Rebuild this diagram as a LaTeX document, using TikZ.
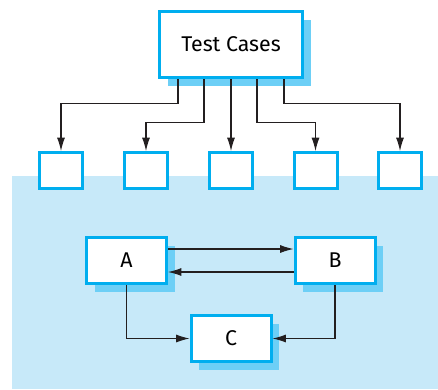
\documentclass[tikz,border=0pt]{standalone}
\usepackage{fontspec}
\setmainfont{Fira Sans}
\usepackage{tikz}
\usetikzlibrary{arrows.meta,positioning,calc,shadows}
\definecolor{boxline}{HTML}{00AEEF}
\definecolor{boxshade}{HTML}{6DCFF6}
\definecolor{panelbg}{HTML}{C7E9F9}
\definecolor{arrowgray}{HTML}{231F20}

\begin{document}
\begin{tikzpicture}[x=0.75pt,y=-0.75pt,font=\fontsize{16}{19}\selectfont,
    unit/.style={rectangle,draw=boxline,line width=2.25pt,fill=white,inner sep=0pt,
      drop shadow={shadow xshift=6pt,shadow yshift=-6pt,fill=boxshade,opacity=1}},
    testcase/.style={rectangle,draw=boxline,line width=2.25pt,fill=white,inner sep=0pt,
      minimum width=32.25pt,minimum height=27pt},
    flow/.style={-{Latex[length=10pt,width=6pt]},arrowgray,line width=0.8pt}]

  \useasboundingbox (0,0) rectangle (438,389);
  % shaded panel
  \fill[panelbg] (12,176) rectangle (438,389);

  \node[unit,minimum width=107.25pt,minimum height=49.5pt] (tc) at (231,44.5) {Test Cases};

  \foreach \i/\x in {1/61,2/146,3/231,4/315.5,5/400}
    \node[testcase] (t\i) at (\x,170.5) {};

  \node[unit,minimum width=60pt,minimum height=34.5pt] (a) at (126.5,260.5) {A};
  \node[unit,minimum width=60pt,minimum height=34.5pt] (b) at (335,260.5) {B};
  \node[unit,minimum width=60pt,minimum height=34.5pt] (c) at (231,338.5) {C};

  % test cases to the units
  \draw[flow] ($(tc.south)+(-53,0)$) -- ++(0,24.5) -| (t1.north);
  \draw[flow] ($(tc.south)+(-27,0)$) -- ++(0,43.5) -| (t2.north);
  \draw[flow] (tc.south) -- (t3.north);
  \draw[flow] ($(tc.south)+(26,0)$) -- ++(0,43.5) -| (t4.north);
  \draw[flow] ($(tc.south)+(53,0)$) -- ++(0,24.5) -| (t5.north);

  % interactions
  \draw[flow] ($(a.east)+(0,-11.5)$) -- ($(b.west)+(0,-11.5)$);
  \draw[flow] ($(b.west)+(0,11.5)$) -- ($(a.east)+(0,11.5)$);
  \draw[flow] (a.south) |- (c.west);
  \draw[flow] (b.south) |- (c.east);
\end{tikzpicture}
\end{document}
